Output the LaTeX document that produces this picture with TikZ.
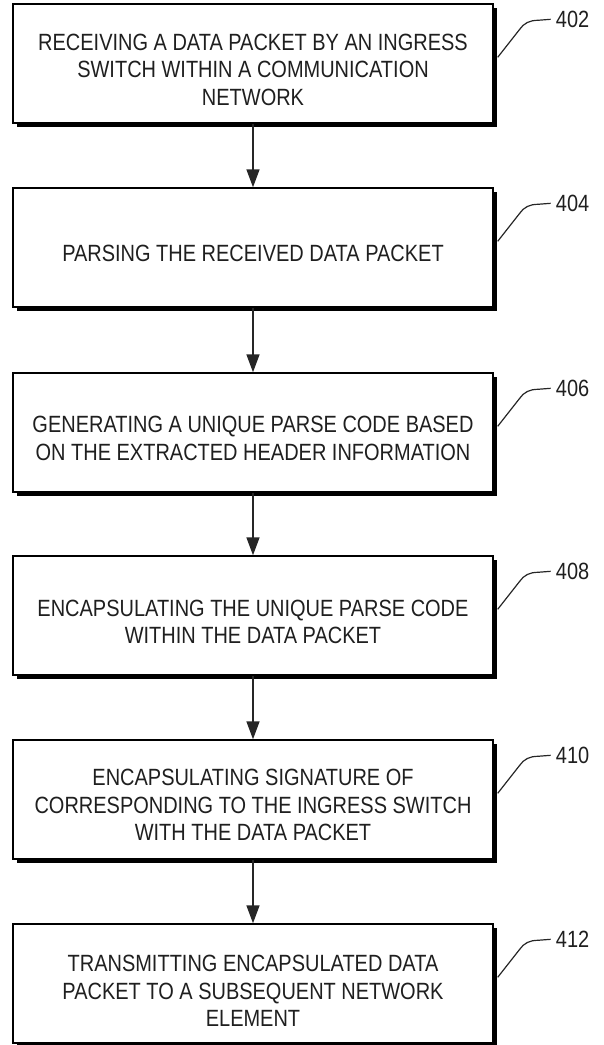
\documentclass[tikz,border=0pt]{standalone}
\usepackage{fontspec}
\setmainfont[FakeStretch=0.85]{Liberation Sans}
\usetikzlibrary{arrows.meta,shadows}

\begin{document}
\begin{tikzpicture}[x=1pt,y=-1pt,
  stepbox/.style={draw=black, line width=1.4pt, fill=white,
    minimum width=480pt, minimum height=119pt, inner sep=0pt,
    drop shadow={shadow xshift=4pt, shadow yshift=-4pt, fill=black, opacity=1}},
  steptext/.style={font=\fontsize{23.5}{27.5}\selectfont, align=center,
    inner sep=0pt, text=black!88},
  flow/.style={-{Triangle[width=13pt,length=18pt]}, line width=1.5pt, black!85},
  lead/.style={line width=1.2pt, black!85},
  refnum/.style={font=\fontsize{23.5}{27.5}\selectfont, anchor=west,
    inner sep=0pt, text=black!88}
]
\useasboundingbox (0,0) rectangle (603,1045);

% process steps
\node[stepbox] (b1) at (253,63.5) {};
\node[stepbox] (b2) at (253,247.5) {};
\node[stepbox] (b3) at (253,432.5) {};
\node[stepbox] (b4) at (253,615.5) {};
\node[stepbox] (b5) at (253,799.5) {};
\node[stepbox] (b6) at (253,983.5) {};

\node[steptext] (t1) at (253,69.5) {RECEIVING A DATA PACKET BY AN INGRESS\\SWITCH WITHIN A COMMUNICATION\\NETWORK};
\node[steptext] (t2) at (253,253) {PARSING THE RECEIVED DATA PACKET};
\node[steptext] (t3) at (253,438.5) {GENERATING A UNIQUE PARSE CODE BASED\\ON THE EXTRACTED HEADER INFORMATION};
\node[steptext] (t4) at (253,622) {ENCAPSULATING THE UNIQUE PARSE CODE\\WITHIN THE DATA PACKET};
\node[steptext] (t5) at (253,805) {ENCAPSULATING SIGNATURE OF\\CORRESPONDING TO THE INGRESS SWITCH\\WITH THE DATA PACKET};
\node[steptext] (t6) at (253,991) {TRANSMITTING ENCAPSULATED DATA\\PACKET TO A SUBSEQUENT NETWORK\\ELEMENT};

% flow arrows
\draw[flow] (b1.south) -- (b2.north);
\draw[flow] (b2.south) -- (b3.north);
\draw[flow] (b3.south) -- (b4.north);
\draw[flow] (b4.south) -- (b5.north);
\draw[flow] (b5.south) -- (b6.north);

% reference numerals with leader lines
\foreach \i/\num in {1/402,2/404,3/406,4/408,5/410,6/412}{
  \node[refnum] (r\i) at ([xshift=62pt,yshift=-16pt]b\i.north east) {\num};
  \draw[lead] ([xshift=4pt,yshift=-54pt]b\i.north east) -- ++(22,-28)
    .. controls +(4,-6) and +(-8,0) .. ++(18,-9) -- ([xshift=-5pt]r\i.west);
}
\end{tikzpicture}
\end{document}
